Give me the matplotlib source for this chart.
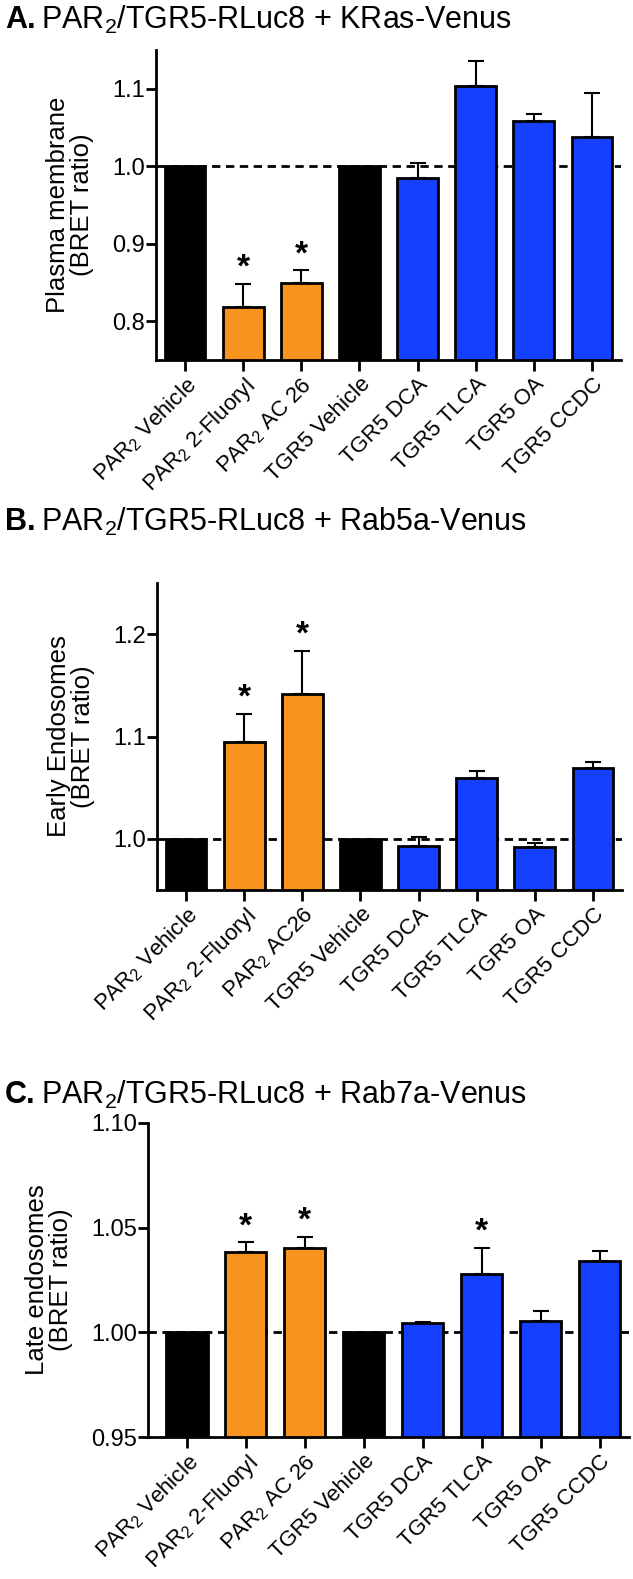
import numpy as np
import matplotlib
matplotlib.use('Agg')
import matplotlib.pyplot as plt

plt.rcParams['font.family'] = ['Liberation Sans', 'DejaVu Sans']
plt.rcParams['mathtext.fontset'] = 'custom'
plt.rcParams['mathtext.rm'] = 'Liberation Sans'
plt.rcParams['mathtext.it'] = 'Liberation Sans:italic'
plt.rcParams['mathtext.bf'] = 'Liberation Sans:bold'

######## data ########

labels_a = ['PAR$_2$ Vehicle', 'PAR$_2$ 2-Fluoryl', 'PAR$_2$ AC 26', 'TGR5 Vehicle',
            'TGR5 DCA', 'TGR5 TLCA', 'TGR5 OA', 'TGR5 CCDC']
labels_b = ['PAR$_2$ Vehicle', 'PAR$_2$ 2-Fluoryl', 'PAR$_2$ AC26', 'TGR5 Vehicle',
            'TGR5 DCA', 'TGR5 TLCA', 'TGR5 OA', 'TGR5 CCDC']
labels_c = labels_a

# bar groups: vehicle / PAR2 agonist / TGR5 agonist
groups = ['veh', 'par', 'par', 'veh', 'tgr', 'tgr', 'tgr', 'tgr']

mean_a = [1.000, 0.819, 0.850, 1.000, 0.985, 1.104, 1.059, 1.038]
err_a = [0.000, 0.029, 0.016, 0.000, 0.019, 0.032, 0.008, 0.056]
star_a = [False, True, True, False, False, False, False, False]

mean_b = [1.000, 1.095, 1.142, 1.000, 0.993, 1.059, 0.992, 1.069]
err_b = [0.000, 0.027, 0.042, 0.000, 0.009, 0.007, 0.004, 0.006]
star_b = [False, True, True, False, False, False, False, False]

mean_c = [1.000, 1.0385, 1.0402, 1.000, 1.0044, 1.0277, 1.0052, 1.0340]
err_c = [0.000, 0.0046, 0.0055, 0.000, 0.0007, 0.0128, 0.0050, 0.0048]
star_c = [False, True, True, False, False, True, False, False]

colors = {'veh': '#000000', 'par': '#F7931E', 'tgr': '#1640FF'}

######## figure ########

W, H = 633, 1579
fig = plt.figure(figsize=(W / 100, H / 100), dpi=100)


def px_axes(left, right, top, bottom):
    return fig.add_axes([left / W, 1 - bottom / H, (right - left) / W, (bottom - top) / H])


def panel(ax, means, errs, stars, labels, ylim, yticks, yfmt, ylabel, xleft):
    x = np.arange(len(means))
    ax.axhline(1.0, color='black', lw=2, ls=(0, (3, 2)), zorder=1)
    ax.bar(x, means, width=0.7, bottom=0, color=[colors[g] for g in groups],
           edgecolor='black', linewidth=2, zorder=2)
    for xi, m, e, s in zip(x, means, errs, stars):
        if e > 0:
            ax.errorbar(xi, m, yerr=[[0], [e]], fmt='none', ecolor='black',
                        elinewidth=1.5, capsize=6, capthick=1.5, zorder=3)
        if s:
            ax.annotate('*', xy=(xi, m + e), xytext=(0, 0), textcoords='offset points',
                        ha='center', va='bottom', fontsize=24, fontweight='bold')
    ax.set_ylim(*ylim)
    ax.set_xlim(xleft, len(means) - 0.5)
    ax.set_yticks(yticks)
    ax.set_yticklabels([yfmt % v for v in yticks], fontsize=17)
    ax.set_xticks(x)
    ax.set_xticklabels(labels, rotation=45, ha='right', rotation_mode='anchor', fontsize=16)
    ax.tick_params(axis='x', length=8, width=2, pad=2)
    ax.tick_params(axis='y', length=7, width=2, pad=1)
    for sp in ['top', 'right']:
        ax.spines[sp].set_visible(False)
    for sp in ['left', 'bottom']:
        ax.spines[sp].set_linewidth(2)
    ax.set_ylabel(ylabel, fontsize=18.5, linespacing=1.0, labelpad=13)


def title(y, letter, text):
    t = fig.text(5 / W, 1 - y / H, letter, fontsize=22, fontweight='bold', va='center', ha='left')
    fig.canvas.draw()
    plt.annotate(text, xy=(1, 0.5), xycoords=t, xytext=(4, 0), textcoords='offset points',
                 va='center', ha='left', fontsize=22, annotation_clip=False)


ax_a = px_axes(156, 621, 50, 360)
panel(ax_a, mean_a, err_a, star_a, labels_a, (0.75, 1.15), [0.8, 0.9, 1.0, 1.1], '%.1f',
      'Plasma membrane\n(BRET ratio)', -0.5)

ax_b = px_axes(157, 622, 583, 890)
panel(ax_b, mean_b, err_b, star_b, labels_b, (0.95, 1.25), [1.0, 1.1, 1.2], '%.1f',
      'Early Endosomes\n(BRET ratio)', -0.5)

ax_c = px_axes(148, 629, 1123, 1437)
panel(ax_c, mean_c, err_c, star_c, labels_c, (0.95, 1.10), [0.95, 1.00, 1.05, 1.10], '%.2f',
      'Late endosomes\n(BRET ratio)', -0.66)

title(20, 'A.', 'PAR$_2$/TGR5-RLuc8 + KRas-Venus')
title(522, 'B.', 'PAR$_2$/TGR5-RLuc8 + Rab5a-Venus')
title(1095, 'C.', 'PAR$_2$/TGR5-RLuc8 + Rab7a-Venus')

fig.savefig('out.png', dpi=100)
